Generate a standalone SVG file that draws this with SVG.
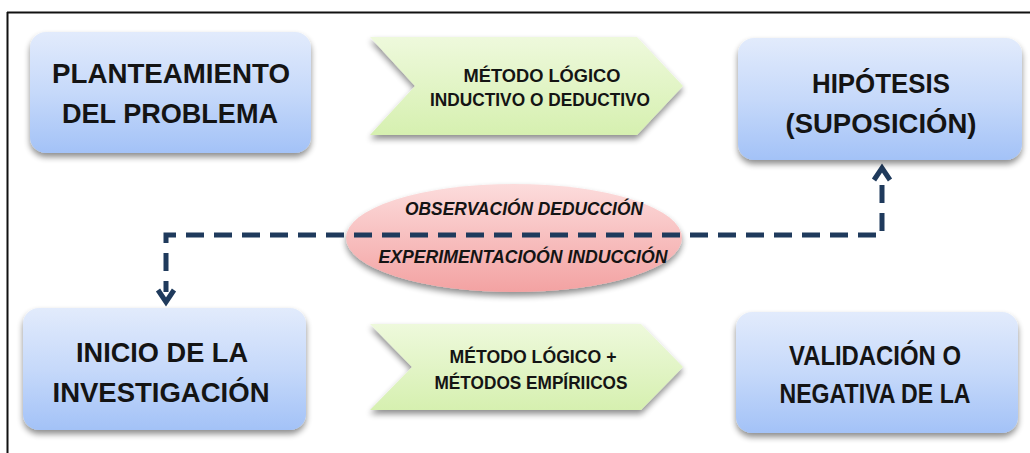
<svg xmlns="http://www.w3.org/2000/svg" width="1030" height="453" viewBox="0 0 1030 453">
<defs>
<linearGradient id="gBlue" x1="0" y1="0" x2="0" y2="1">
<stop offset="0" stop-color="#e2ebfc"/>
<stop offset="0.5" stop-color="#c6d9fa"/>
<stop offset="1" stop-color="#a3c2f7"/>
</linearGradient>
<linearGradient id="gGreen" x1="0" y1="0" x2="0" y2="1">
<stop offset="0" stop-color="#eef9dc"/>
<stop offset="1" stop-color="#d6f0b0"/>
</linearGradient>
<linearGradient id="gPink" x1="0" y1="0" x2="0" y2="1">
<stop offset="0" stop-color="#fcdcdc"/>
<stop offset="1" stop-color="#f3a2a2"/>
</linearGradient>
<filter id="shadow" x="-10%" y="-10%" width="120%" height="130%">
<feGaussianBlur in="SourceAlpha" stdDeviation="3"/>
<feOffset dx="0" dy="4" result="b"/>
<feComponentTransfer><feFuncA type="linear" slope="0.45"/></feComponentTransfer>
<feMerge><feMergeNode/><feMergeNode in="SourceGraphic"/></feMerge>
</filter>
</defs>
<style>
.box{fill:url(#gBlue);filter:url(#shadow)}
.chev{fill:url(#gGreen);filter:url(#shadow)}
.ell{fill:url(#gPink);filter:url(#shadow)}
.big{font-family:"Liberation Sans",Arial,sans-serif;font-weight:bold;font-size:28px;fill:#141414;text-anchor:middle}
.mid{font-family:"Liberation Sans",Arial,sans-serif;font-weight:bold;font-size:19px;fill:#141414;text-anchor:middle}
.ital{font-family:"Liberation Sans",Arial,sans-serif;font-weight:bold;font-style:italic;font-size:19px;fill:#141414;text-anchor:middle}
.conn{fill:none;stroke:#1f3a5c;stroke-width:5;stroke-dasharray:18 10}
.arr{fill:none;stroke:#1f3a5c;stroke-width:5;stroke-linecap:butt;stroke-linejoin:miter}
</style>
<rect x="0" y="0" width="1030" height="453" fill="#ffffff"/>
<g id="frame">
<line x1="7" y1="12.5" x2="1030" y2="12.5" stroke="#111" stroke-width="2"/>
<line x1="7.5" y1="12" x2="7.5" y2="453" stroke="#111" stroke-width="2"/>
</g>
<g id="ellipse-node">
<ellipse class="ell" cx="514" cy="238" rx="168" ry="54"/>
<text class="ital" x="524" y="215" textLength="238" lengthAdjust="spacingAndGlyphs">OBSERVACIÓN DEDUCCIÓN</text>
<text class="ital" x="523" y="263" textLength="289" lengthAdjust="spacingAndGlyphs">EXPERIMENTACIOÓN INDUCCIÓN</text>
</g>
<g id="connectors">
<path class="conn" d="M882,185 L882,235 L166,235 L166,292"/>
<path class="arr" d="M158,290 L166,302 L174,290"/>
<path class="arr" d="M874,180 L882,168 L890,180"/>
</g>
<g id="planteamiento">
<rect class="box" x="30" y="32" width="281" height="121" rx="16"/>
<text class="big" x="171" y="83" textLength="238" lengthAdjust="spacingAndGlyphs">PLANTEAMIENTO</text>
<text class="big" x="170" y="123" textLength="216" lengthAdjust="spacingAndGlyphs">DEL PROBLEMA</text>
</g>
<g id="metodo-top">
<path class="chev" d="M370,37 L637,37 L683,86 L637,135 L370,135 L415,86 Z"/>
<text class="mid" x="542" y="82" textLength="157" lengthAdjust="spacingAndGlyphs">MÉTODO LÓGICO</text>
<text class="mid" x="540" y="106" textLength="220" lengthAdjust="spacingAndGlyphs">INDUCTIVO O DEDUCTIVO</text>
</g>
<g id="hipotesis">
<rect class="box" x="738" y="38" width="284" height="122" rx="16"/>
<text class="big" x="881" y="93" textLength="138" lengthAdjust="spacingAndGlyphs">HIPÓTESIS</text>
<text class="big" x="881" y="133" textLength="191" lengthAdjust="spacingAndGlyphs">(SUPOSICIÓN)</text>
</g>
<g id="inicio">
<rect class="box" x="23" y="308" width="283" height="122" rx="16"/>
<text class="big" x="162" y="362" textLength="172" lengthAdjust="spacingAndGlyphs">INICIO DE LA</text>
<text class="big" x="161" y="402" textLength="217" lengthAdjust="spacingAndGlyphs">INVESTIGACIÓN</text>
</g>
<g id="metodo-bottom">
<path class="chev" d="M370,324 L641,324 L683,367 L641,410 L370,410 L412,367 Z"/>
<text class="mid" x="533" y="363" textLength="167" lengthAdjust="spacingAndGlyphs">MÉTODO LÓGICO +</text>
<text class="mid" x="531" y="389" textLength="193" lengthAdjust="spacingAndGlyphs">MÉTODOS EMPÍRIICOS</text>
</g>
<g id="validacion">
<rect class="box" x="736" y="312" width="282" height="121" rx="16"/>
<text class="big" x="875" y="365" textLength="172" lengthAdjust="spacingAndGlyphs">VALIDACIÓN O</text>
<text class="big" x="875" y="403" textLength="191" lengthAdjust="spacingAndGlyphs">NEGATIVA DE LA</text>
</g>
</svg>
